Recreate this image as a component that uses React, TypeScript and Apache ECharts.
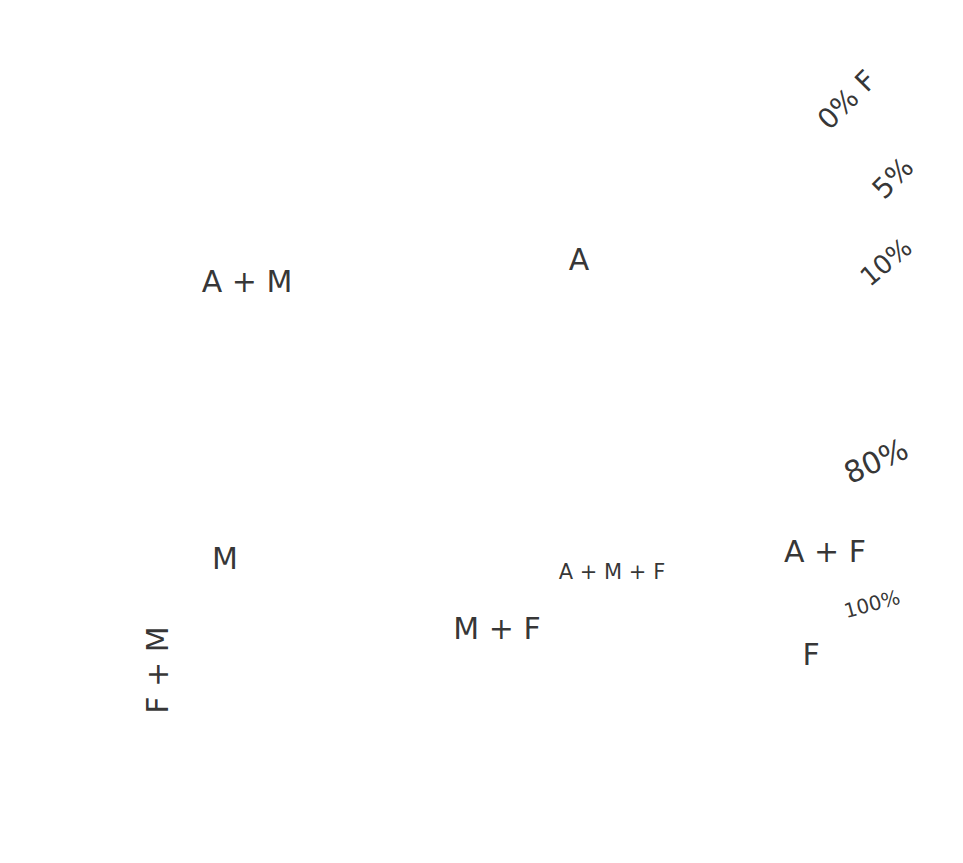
import React, { useEffect, useRef } from "react";
import * as echarts from "echarts";

const labels = ["0% F", "5%", "10%", "A + M", "A", "80%", "M", "A + F", "A + M + F", "100%", "M + F", "F", "F + M"];
const xs = [847, 893, 886, 247, 579, 876, 225, 825, 612, 872, 497, 811, 157];
const ys = [100, 178, 262, 281, 259, 461, 558, 551, 572, 604, 628, 654, 670];
const sizes = [28, 28, 26, 30, 30, 30, 30, 30, 21, 20, 30, 30, 30];
const rotations = [45, 45, 40, 0, 0, 25, 0, 0, 0, 15, 0, 0, 90];

export default function App() {
  const ref = useRef<HTMLDivElement>(null);
  useEffect(() => {
    const chart = echarts.init(ref.current!, null, { renderer: "svg" });
    chart.setOption({
      animation: false,
      backgroundColor: "#ffffff",
      grid: { left: 0, right: 0, top: 0, bottom: 0 },
      xAxis: { type: "value", min: 0, max: 963, show: false },
      yAxis: { type: "value", min: 0, max: 863, inverse: true, show: false },
      series: [
        {
          type: "scatter",
          symbolSize: 0,
          data: labels.map((t, i) => ({
            value: [xs[i], ys[i]],
            label: {
              show: true,
              formatter: t,
              position: "inside",
              fontSize: sizes[i],
              rotate: rotations[i],
              color: "#000",
              fontFamily: "DejaVu Sans",
            },
          })),
        },
      ],
    });
    return () => chart.dispose();
  }, []);
  return <div ref={ref} style={{ position: "absolute", left: 0, top: 0, width: 963, height: 863 }} />;
}
